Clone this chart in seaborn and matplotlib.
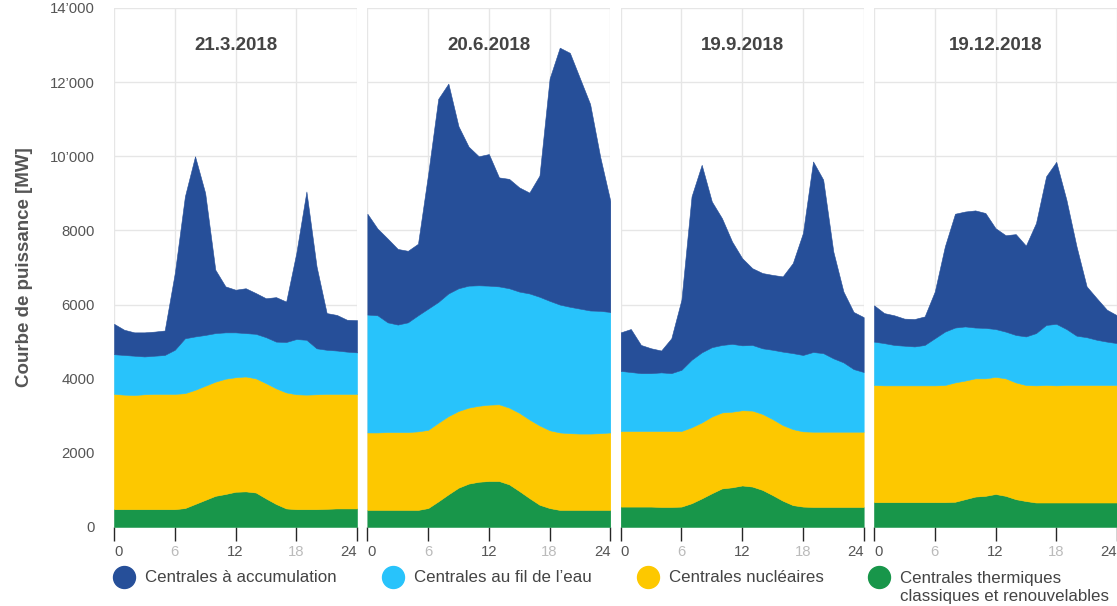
import numpy as np
import matplotlib
matplotlib.use("Agg")
import matplotlib.pyplot as plt
import seaborn as sns
from matplotlib.lines import Line2D
from matplotlib.ticker import FuncFormatter

hours = list(range(25))
dates = ["21.3.2018", "20.6.2018", "19.9.2018", "19.12.2018"]
sources = ["Centrales à accumulation", "Centrales au fil de l’eau",
           "Centrales nucléaires", "Centrales thermiques"]
thermal_line2 = "classiques et renouvelables"
colors = ["#264f99", "#28c3fb", "#fdc800", "#18964a"]

# MW par type de centrale, une valeur par heure (0..24)
thermal_mar = [480, 480, 480, 480, 480, 480, 480, 510, 620, 730, 840, 890, 950, 960, 930, 770, 620, 500, 480, 480, 480, 490, 500, 500, 500]
nuclear_mar = [3110, 3090, 3080, 3100, 3110, 3110, 3110, 3100, 3080, 3080, 3080, 3110, 3090, 3100, 3080, 3110, 3120, 3130, 3100, 3090, 3100, 3100, 3090, 3090, 3090]
river_mar = [1070, 1070, 1060, 1020, 1030, 1050, 1190, 1480, 1440, 1370, 1310, 1250, 1210, 1170, 1200, 1240, 1260, 1360, 1490, 1480, 1240, 1190, 1170, 1140, 1120]
storage_mar = [820, 680, 630, 650, 650, 660, 2070, 3830, 4860, 3830, 1710, 1240, 1150, 1210, 1100, 1050, 1200, 1090, 2320, 4000, 2210, 990, 960, 860, 870]

thermal_jun = [460, 460, 460, 460, 460, 460, 510, 690, 880, 1060, 1170, 1220, 1240, 1240, 1150, 970, 780, 600, 510, 460, 460, 460, 460, 460, 460]
nuclear_jun = [2090, 2090, 2100, 2100, 2100, 2120, 2110, 2120, 2110, 2070, 2050, 2050, 2060, 2070, 2070, 2110, 2120, 2140, 2100, 2090, 2070, 2060, 2060, 2070, 2090]
river_jun = [3180, 3160, 2960, 2900, 2960, 3130, 3270, 3260, 3310, 3310, 3290, 3250, 3210, 3180, 3220, 3270, 3400, 3470, 3490, 3450, 3410, 3370, 3320, 3300, 3250]
storage_jun = [2720, 2340, 2260, 2040, 1930, 1930, 3630, 5480, 5660, 4370, 3750, 3480, 3550, 2940, 2950, 2810, 2720, 3270, 6000, 6930, 6850, 6210, 5570, 4150, 2990]

thermal_sep = [550, 550, 550, 550, 540, 540, 550, 640, 770, 910, 1040, 1070, 1120, 1090, 1000, 860, 710, 590, 550, 540, 540, 540, 540, 540, 540]
nuclear_sep = [2040, 2040, 2040, 2040, 2050, 2050, 2040, 2050, 2050, 2070, 2050, 2040, 2030, 2050, 2050, 2050, 2040, 2050, 2030, 2030, 2030, 2030, 2030, 2030, 2030]
river_sep = [1620, 1590, 1560, 1560, 1580, 1560, 1650, 1820, 1890, 1870, 1820, 1830, 1750, 1770, 1770, 1870, 1980, 2050, 2060, 2150, 2120, 1980, 1870, 1690, 1610]
storage_sep = [1040, 1160, 760, 670, 590, 940, 1890, 4410, 5060, 3930, 3420, 2760, 2350, 2070, 2030, 2020, 2030, 2430, 3290, 5140, 4680, 2880, 1910, 1540, 1480]

thermal_dec = [670, 670, 670, 670, 670, 670, 670, 670, 680, 750, 820, 840, 890, 840, 750, 700, 660, 660, 660, 660, 660, 660, 660, 660, 660]
nuclear_dec = [3160, 3150, 3150, 3150, 3150, 3150, 3150, 3160, 3220, 3200, 3190, 3170, 3160, 3170, 3150, 3130, 3160, 3170, 3160, 3170, 3170, 3170, 3170, 3170, 3170]
river_dec = [1170, 1140, 1090, 1070, 1050, 1090, 1270, 1440, 1480, 1460, 1370, 1360, 1290, 1260, 1280, 1310, 1410, 1620, 1660, 1510, 1330, 1290, 1220, 1170, 1130]
storage_dec = [980, 810, 800, 730, 740, 770, 1260, 2300, 3070, 3100, 3160, 3100, 2720, 2600, 2720, 2450, 2970, 4010, 4370, 3490, 2410, 1370, 1120, 860, 750]

panels = [
    (thermal_mar, nuclear_mar, river_mar, storage_mar),
    (thermal_jun, nuclear_jun, river_jun, storage_jun),
    (thermal_sep, nuclear_sep, river_sep, storage_sep),
    (thermal_dec, nuclear_dec, river_dec, storage_dec),
]

W, H = 1117, 606


def fmt_mw(v, _):
    v = int(round(v))
    if v >= 10000:
        return f"{v:,}".replace(",", "’")
    return str(v)


def main():
    sns.set_theme(style="whitegrid")
    plt.rcParams['font.family'] = ['Liberation Sans', 'DejaVu Sans']

    fig, axes = plt.subplots(1, 4, figsize=(W / 100, H / 100), dpi=100, sharey=True)
    fig.subplots_adjust(left=0.1021, right=1.0, bottom=0.1304, top=0.9868, wspace=0.0425)

    for ax, date, (th, nu, ri, st) in zip(axes, dates, panels):
        ax.stackplot(hours, th, nu, ri, st, colors=colors[::-1],
                     linewidth=0.4, edgecolor='face', zorder=2)
        ax.set_xlim(0, 24)
        ax.set_ylim(0, 14000)
        ax.set_xticks([0, 6, 12, 18, 24])
        ax.set_yticks(range(0, 14001, 2000))
        ax.yaxis.set_major_formatter(FuncFormatter(fmt_mw))
        ax.set_facecolor('white')
        ax.grid(True, color='#e6e6e6', linewidth=1, zorder=0)
        for s in ax.spines.values():
            s.set_visible(False)
        ax.tick_params(axis='x', length=10, width=1, pad=3, labelsize=10.7, bottom=True)
        ax.tick_params(axis='y', length=0, pad=14, labelsize=10.7, labelcolor='#555555')
        for i, (lab, tk) in enumerate(zip(ax.get_xticklabels(), ax.xaxis.get_major_ticks())):
            light = i in (1, 3)
            lab.set_color('#bbbbbb' if light else '#555555')
            tk.tick1line.set_color('#cccccc' if light else '#888888')
            if i == 0:
                lab.set_horizontalalignment('left')
            elif i == 4:
                lab.set_horizontalalignment('right')
        ax.text(12, 12980, date, ha='center', va='center', fontsize=13.5,
                fontweight='bold', color='#444444', zorder=3)

    axes[0].set_ylabel('Courbe de puissance [MW]', fontsize=13.5, fontweight='bold',
                       color='#555555', labelpad=12)

    # one legend entry per column, placed like the original
    marker_x = [124, 393, 648, 879]
    row_y = 1 - 578 / H
    fs = 12.2
    half_handle = 0.5 * fs * 100 / 72
    for c, label, mx in zip(colors, sources, marker_x):
        h = Line2D([], [], marker='o', linestyle='', markersize=15.8,
                   markerfacecolor=c, markeredgecolor=c)
        fig.legend([h], [label], loc='center left',
                   bbox_to_anchor=((mx - half_handle) / W, row_y),
                   frameon=False, fontsize=fs, labelcolor='#444444',
                   handlelength=1.0, handletextpad=0.72,
                   borderaxespad=0, borderpad=0)
    fig.text(900 / W, 1 - 597 / H, thermal_line2, fontsize=fs, color='#444444',
             ha='left', va='center')

    plt.savefig('out.png', dpi=100)


if __name__ == "__main__":
    main()
